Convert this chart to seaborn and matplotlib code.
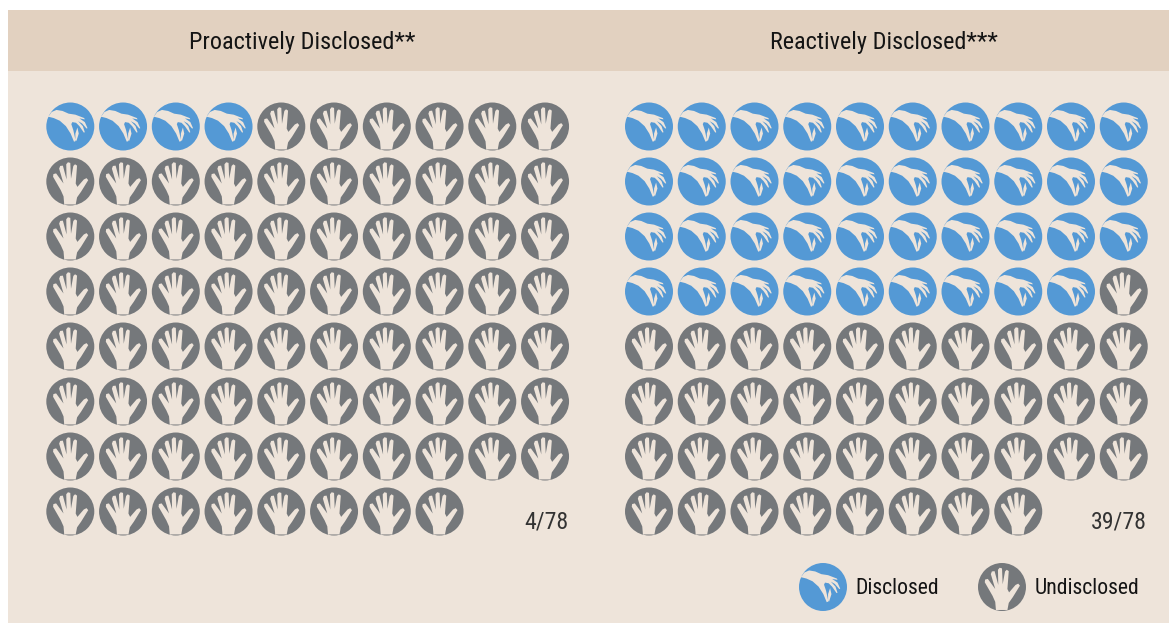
import numpy as np
import pandas as pd
import matplotlib
matplotlib.use("Agg")
import matplotlib.pyplot as plt
import seaborn as sns
from matplotlib.path import Path
from matplotlib.patches import Rectangle

# Data
panels = ["Proactively Disclosed**", "Reactively Disclosed***"]
disclosed = [4, 39]
total = 78
legend_labels = ["Disclosed", "Undisclosed"]

BLUE = "#5499d5"
GRAY = "#75787b"
HEADER = "#e2d1c0"
BODY = "#eee4da"
INK = "#141414"

# Hand outlines traced from the icons, in zoomed pixels
OPEN_HAND = [(60, 146), (58, 122), (50, 104), (27, 64), (28, 56), (36, 54), (58, 84),
             (45, 40), (48, 32), (56, 31), (67, 72), (66, 27), (71, 21), (78, 23),
             (80, 70), (87, 32), (92, 27), (98, 31), (94, 84), (99, 94), (118, 72),
             (126, 68), (131, 74), (110, 108), (98, 125), (94, 146)]
DOWN_HAND = [(14, 50), (24, 36), (38, 30), (56, 33), (74, 41), (94, 44), (120, 54),
             (122, 58), (106, 55), (122, 66), (130, 84), (127, 85), (114, 70),
             (102, 63), (116, 78), (122, 96), (119, 97), (106, 78), (96, 68),
             (85, 66), (82, 72), (88, 90), (95, 122), (90, 124), (80, 100),
             (66, 78), (48, 62), (30, 54)]
DOWN_FINGER = [(100, 82), (104, 100), (97, 122), (94, 118), (94, 100)]


def hole(points, cx, cy, r):
    # clockwise outline so it cuts through the counter-clockwise disc
    pts = np.array(points, dtype=float)
    pts = np.column_stack([(pts[:, 0] - cx) / r, (cy - pts[:, 1]) / r])
    area = np.sum(pts[:, 0] * np.roll(pts[:, 1], -1) - np.roll(pts[:, 0], -1) * pts[:, 1])
    if area > 0:
        pts = pts[::-1]
    return Path(np.vstack([pts, pts[0]]), closed=True)


circle = Path.unit_circle()
open_marker = Path.make_compound_path(circle, hole(OPEN_HAND, 78, 78, 71))
down_marker = Path.make_compound_path(circle, hole(DOWN_HAND, 79, 79, 71),
                                      hole(DOWN_FINGER, 79, 79, 71))

# One row per icon
x_start = [70.3, 649.0]
rows = []
for p, name in enumerate(panels):
    for i in range(total):
        rows.append({
            "panel": name,
            "x": x_start[p] + (i % 10) * 52.75,
            "y": 126.5 + (i // 10) * 55.0,
            "status": "Disclosed" if i < disclosed[p] else "Undisclosed",
        })
df = pd.DataFrame(rows)
legend_df = pd.DataFrame({"x": [823, 1002], "y": [587, 587], "status": legend_labels})

sns.set_theme(style="white")
plt.rcParams["font.family"] = ["Roboto Condensed", "Roboto", "DejaVu Sans"]

fig = plt.figure(figsize=(11.69, 6.23), dpi=100)
ax = fig.add_axes([0, 0, 1, 1])
ax.set_xlim(0, 1169)
ax.set_ylim(623, 0)
ax.axis("off")

ax.add_patch(Rectangle((8, 10), 1161, 613, color=BODY, lw=0, zorder=0))
ax.add_patch(Rectangle((8, 10), 1161, 61, color=HEADER, lw=0, zorder=0))

palette = {"Disclosed": BLUE, "Undisclosed": GRAY}
markers = {"Disclosed": down_marker, "Undisclosed": open_marker}
for data in [df, legend_df]:
    sns.scatterplot(data=data, x="x", y="y", hue="status", style="status",
                    palette=palette, markers=markers, s=1194, linewidth=0,
                    legend=False, ax=ax, zorder=2)

title_x = [302.5, 884]
count_x = [568.5, 1146.5]
for p, name in enumerate(panels):
    ax.text(title_x[p], 49, name, ha="center", va="baseline", fontsize=17.5, color=INK)
    ax.text(count_x[p], 528.5, f"{disclosed[p]}/{total}", ha="right", va="baseline",
            fontsize=17.2, color="#333333")

ax.text(855, 594, legend_labels[0], ha="left", va="baseline", fontsize=15.7, color=INK)
ax.text(1035, 594, legend_labels[1], ha="left", va="baseline", fontsize=15.7, color=INK)

ax.set_xlabel("")
ax.set_ylabel("")
fig.savefig("out.png", dpi=100)
plt.close(fig)
